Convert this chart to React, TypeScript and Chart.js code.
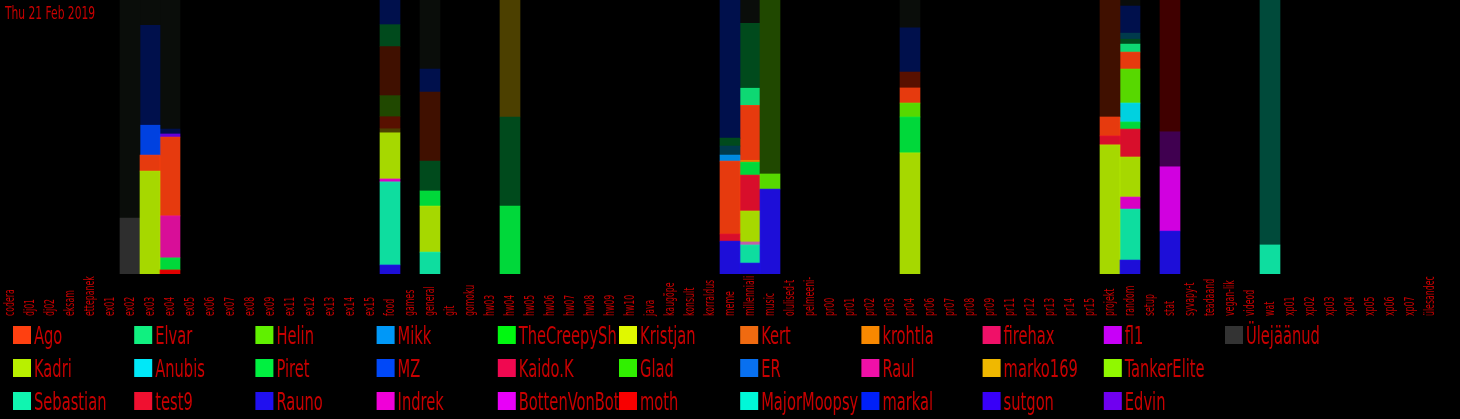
import React, { useEffect, useRef } from "react";
import { Chart, registerables } from "chart.js";

Chart.register(...registerables);

const titleText = "Thu 21 Feb 2019";
const textColor = "#c80000";
const fontFamily = "'Liberation Sans Narrow', 'DejaVu Sans Condensed', sans-serif";

const categories = [
  "codera", "dj01", "dj02", "eksam", "ettepanek", "ex01", "ex02", "ex03", "ex04", "ex05",
  "ex06", "ex07", "ex08", "ex09", "ex11", "ex12", "ex13", "ex14", "ex15", "food",
  "games", "general", "git", "gomoku", "hw03", "hw04", "hw05", "hw06", "hw07", "hw08",
  "hw09", "hw10", "java", "kaugõpe", "konsult", "korraldus", "meme", "millenniali", "music", "olulised-t",
  "pelmeeni-", "pr00", "pr01", "pr02", "pr03", "pr04", "pr06", "pr07", "pr08", "pr09",
  "pr11", "pr12", "pr13", "pr14", "pr15", "projekt", "random", "setup", "stat", "syvapy-t",
  "teadaand", "vegan-lik", "videod", "wat", "xp01", "xp02", "xp03", "xp04", "xp05", "xp06",
  "xp07", "ülesandec",
];

// legend entries (column-major, 3 rows)
const seriesNames = [
  "Ago", "Kadri", "Sebastian", "Elvar", "Anubis", "test9", "Helin", "Piret", "Rauno",
  "Mikk", "MZ", "Indrek", "TheCreepySh", "Kaido.K", "BottenVonBot", "Kristjan", "Glad", "moth",
  "Kert", "ER", "MajorMoopsy", "krohtla", "Raul", "markal", "firehax", "marko169", "sutgon",
  "fl1", "TankerElite", "Edvin", "Ülejäänud",
];
const seriesColors = [
  "#ff4010", "#b8f000", "#10f5b0", "#10f080", "#00e8f8", "#f01030", "#60f000", "#00f040", "#2010f0",
  "#0098f8", "#0048f8", "#f000d8", "#00f810", "#f00850", "#e800f8", "#e0f800", "#30f000", "#f80000",
  "#f06a10", "#0870f0", "#00f8d8", "#f88800", "#f010a8", "#0020f8", "#f01068", "#f0b800", "#3800f8",
  "#c800f8", "#90f800", "#7000f0", "#333333",
];

// faded (older) shares, not in the legend
const fadedNames = ["dark", "navy", "darkGreen", "moss", "brown", "maroon", "olive", "teal", "plum", "blood", "pine", "mauve"];
const fadedColors = ["#0a0d0a", "#00104c", "#004a1c", "#204800", "#401000", "#581000", "#4c4000", "#003a4c", "#400050", "#400000", "#004a3a", "#c060a8"];

type Seg = [string, number];

// segments per channel, bottom to top, in percent
const ex02: Seg[] = [["Ülejäänud", 20.4], ["dark", 79.6]];
const ex03: Seg[] = [["Kadri", 37.6], ["Ago", 5.8], ["MZ", 10.9], ["navy", 36.5], ["dark", 9.2]];
const ex04: Seg[] = [["moth", 1.5], ["Piret", 4.4], ["Raul", 15.3], ["Ago", 28.8], ["Edvin", 1.1], ["navy", 1.8], ["dark", 47.1]];
const food: Seg[] = [["Rauno", 3.3], ["Sebastian", 30.3], ["Indrek", 1.1], ["Kadri", 16.8], ["olive", 1.5], ["maroon", 4.4], ["moss", 7.7], ["brown", 17.9], ["darkGreen", 8.0], ["navy", 9.0]];
const general: Seg[] = [["Sebastian", 8.0], ["Kadri", 16.8], ["Piret", 5.5], ["darkGreen", 10.9], ["brown", 25.2], ["navy", 8.4], ["dark", 25.2]];
const hw04: Seg[] = [["Piret", 24.8], ["darkGreen", 32.5], ["olive", 42.7]];
const meme: Seg[] = [["Rauno", 12.0], ["test9", 2.6], ["Ago", 26.6], ["Mikk", 2.2], ["teal", 3.3], ["darkGreen", 2.9], ["navy", 50.4]];
const millenniali: Seg[] = [["Rauno", 4.0], ["Sebastian", 6.6], ["mauve", 1.1], ["Kadri", 11.3], ["test9", 13.1], ["Piret", 4.7], ["krohtla", 0.7], ["Ago", 20.1], ["Elvar", 6.2], ["darkGreen", 23.7], ["dark", 8.5]];
const music: Seg[] = [["Rauno", 31.0], ["Helin", 5.5], ["moss", 63.5]];
const pr04: Seg[] = [["Kadri", 44.2], ["Piret", 13.1], ["Helin", 5.1], ["Ago", 5.5], ["maroon", 5.8], ["navy", 16.1], ["dark", 10.2]];
const projekt: Seg[] = [["Kadri", 47.1], ["test9", 3.3], ["Ago", 6.9], ["brown", 42.7]];
const random: Seg[] = [["Rauno", 5.1], ["Sebastian", 18.6], ["Indrek", 4.4], ["Kadri", 14.6], ["test9", 10.2], ["Piret", 2.6], ["Anubis", 6.9], ["Helin", 12.4], ["Ago", 6.2], ["Elvar", 2.9], ["darkGreen", 1.8], ["teal", 2.2], ["navy", 9.9], ["dark", 2.2]];
const stat: Seg[] = [["Rauno", 15.7], ["BottenVonBot", 23.4], ["plum", 12.8], ["blood", 48.1]];
const wat: Seg[] = [["Sebastian", 10.6], ["pine", 89.4]];

const channelSegments: Record<string, Seg[]> = {
  ex02, ex03, ex04, food, general, hw04, meme, millenniali, music, pr04, projekt, random, stat, wat,
};

function colorOf(name: string): string {
  const i = seriesNames.indexOf(name);
  if (i >= 0) return seriesColors[i] + "e6";
  const j = fadedNames.indexOf(name);
  return j >= 0 ? fadedColors[j] : "transparent";
}

const overlayPlugin = {
  id: "overlay",
  beforeDraw(chart: any) {
    const ctx = chart.ctx;
    ctx.save();
    ctx.fillStyle = "#000000";
    ctx.fillRect(0, 0, chart.width, chart.height);
    ctx.restore();
  },
  afterDraw(chart: any) {
    const ctx = chart.ctx;
    const xScale = chart.scales.x;
    ctx.save();
    ctx.fillStyle = textColor;
    // title
    ctx.save();
    ctx.font = `17px ${fontFamily}`;
    ctx.textAlign = "left";
    ctx.textBaseline = "alphabetic";
    ctx.translate(5, 19);
    ctx.scale(0.7, 1);
    ctx.fillText(titleText, 0, 0);
    ctx.restore();

    // category labels
    ctx.font = `14px ${fontFamily}`;
    categories.forEach((label, i) => {
      const x = xScale.getPixelForValue(i);
      ctx.save();
      ctx.translate(x, 316);
      ctx.rotate(-Math.PI / 2);
      ctx.scale(0.62, 1);
      ctx.textAlign = "left";
      ctx.textBaseline = "middle";
      ctx.fillText(label, 0, 0);
      ctx.restore();
    });

    // legend grid
    const colW = 121.2;
    const rowH = 33;
    ctx.font = `24px ${fontFamily}`;
    ctx.textBaseline = "alphabetic";
    seriesNames.forEach((name, i) => {
      const col = Math.floor(i / 3);
      const row = i % 3;
      const bx = 13 + col * colW;
      const by = 326 + row * rowH;
      ctx.fillStyle = seriesColors[i];
      ctx.fillRect(bx, by, 18, 18);
      ctx.save();
      ctx.beginPath();
      ctx.rect(bx + 20, by - 10, colW - 20.5, rowH + 4);
      ctx.clip();
      ctx.fillStyle = textColor;
      ctx.translate(bx + 21, by + 18);
      ctx.scale(0.68, 1);
      ctx.fillText(name, 0, 0);
      ctx.restore();
    });
    ctx.restore();
  },
};

export default function App() {
  const canvasRef = useRef<HTMLCanvasElement | null>(null);

  useEffect(() => {
    document.body.style.margin = "0";
    document.body.style.background = "#000";
    const canvas = canvasRef.current;
    if (!canvas) return;

    const maxLayers = Math.max(...Object.values(channelSegments).map((s) => s.length));
    const datasets = [];
    for (let L = 0; L < maxLayers; L++) {
      datasets.push({
        label: `layer${L}`,
        data: categories.map((c) => channelSegments[c]?.[L]?.[1] ?? 0),
        backgroundColor: categories.map((c) => {
          const seg = channelSegments[c]?.[L];
          return seg ? colorOf(seg[0]) : "transparent";
        }),
        borderWidth: 0,
        barPercentage: 1,
        categoryPercentage: 1,
        stack: "s",
      });
    }

    const chart = new Chart(canvas, {
      type: "bar",
      data: { labels: categories, datasets },
      options: {
        responsive: false,
        animation: false,
        devicePixelRatio: 1,
        layout: { padding: { left: 0, right: 20, top: 0, bottom: 145 } },
        scales: {
          x: { stacked: true, display: false, grid: { display: false } },
          y: { stacked: true, display: false, min: 0, max: 100 },
        },
        plugins: {
          legend: { display: false },
          tooltip: { enabled: false },
          title: { display: false },
        },
      },
      plugins: [overlayPlugin],
    });
    return () => chart.destroy();
  }, []);

  return (
    <div style={{ width: 1460, height: 419, background: "#000" }}>
      <canvas ref={canvasRef} width={1460} height={419} style={{ display: "block" }} />
    </div>
  );
}
